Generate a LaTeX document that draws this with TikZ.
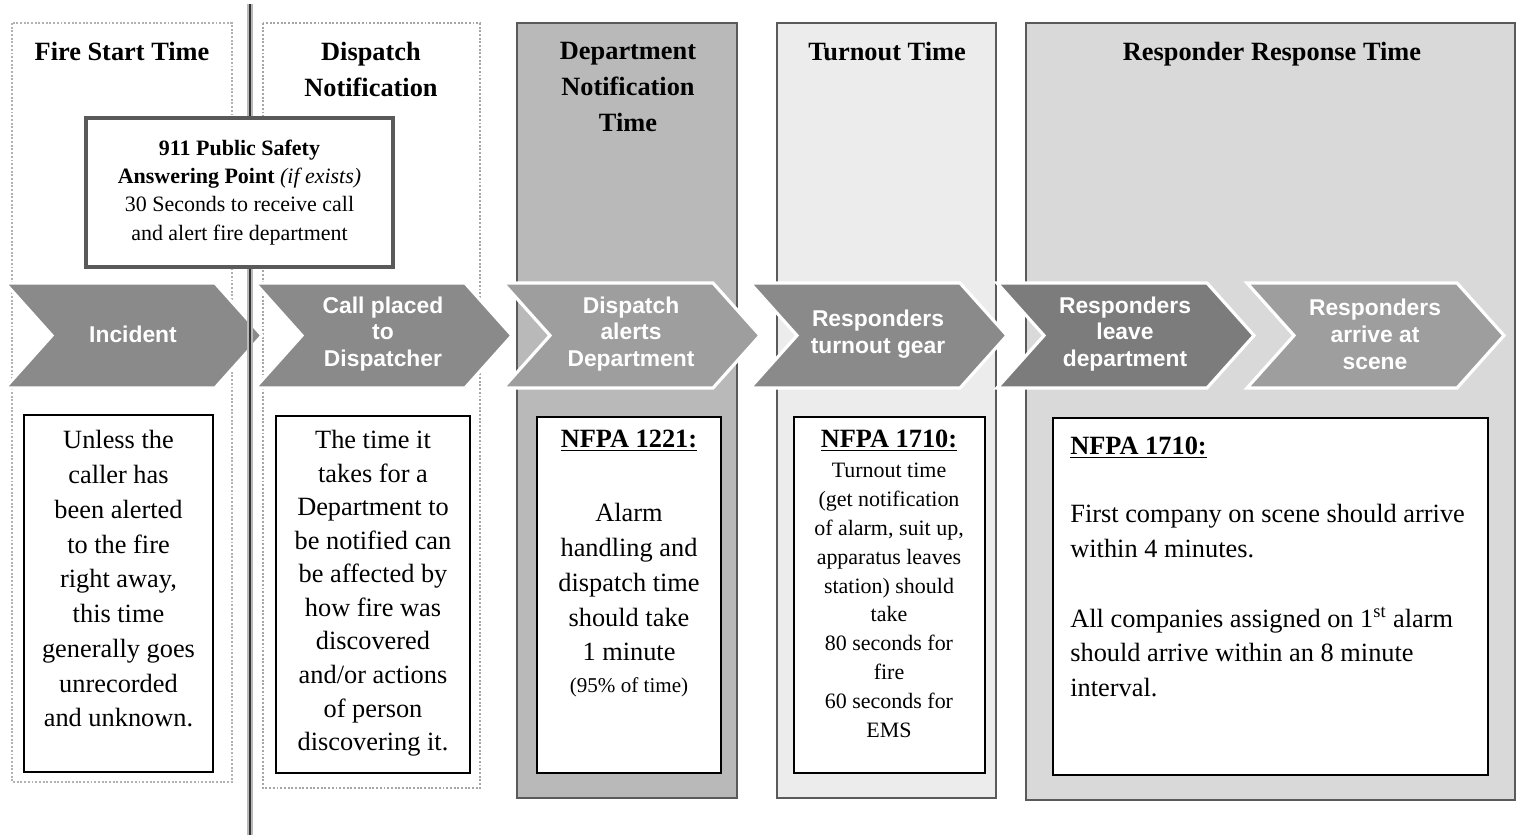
\documentclass[tikz,border=0pt]{standalone}
\usepackage{fontspec}
\setmainfont{Liberation Serif}
\setsansfont{Liberation Sans}
\usetikzlibrary{positioning}
\definecolor{chevmid}{HTML}{8A8A8A}
\definecolor{chevlite}{HTML}{9E9E9E}
\definecolor{chevdark}{HTML}{7C7C7C}
\definecolor{edgegray}{HTML}{5A5A5A}

\begin{document}
\begin{tikzpicture}[x=0.02cm, y=-0.02cm,
  panel/.style={line width=1.1pt, draw=edgegray},
  txtbox/.style={draw=black, fill=white, line width=1.1pt},
  title/.style={font=\bfseries\fontsize{15}{20.5}\selectfont, align=center, anchor=north, inner sep=0pt},
  body/.style={font=\fontsize{15}{19.8}\selectfont, align=center, anchor=north, inner sep=0pt},
  small/.style={font=\fontsize{12.5}{16.4}\selectfont, align=center, anchor=north, inner sep=0pt},
  head/.style={font=\bfseries\fontsize{15}{19.8}\selectfont, anchor=north, inner sep=0pt},
  chev/.style={draw=white, line width=1.8pt, line join=miter},
  chevtext/.style={font=\sffamily\bfseries\fontsize{13}{15.3}\selectfont, text=white, align=center, inner sep=0pt}]
\useasboundingbox[fill=white] (0,0) rectangle (1518,835);

% time columns
\draw[panel, draw=gray!60, densely dotted, fill=white] (12,23) rectangle (232,782);
\draw[panel, draw=gray!70, densely dotted, fill=white] (263,23) rectangle (480,788);
\draw[panel, fill=gray!55] (517,23) rectangle (737,798);
\draw[panel, fill=gray!15] (777,23) rectangle (996,798);
\draw[panel, fill=gray!30] (1026,23) rectangle (1515,800);

% column titles
\node[title] (t1) at (122,42) {Fire Start Time};
\node[title] (t2) at (371,42) {Dispatch\\Notification};
\node[title] (t3) at (628,42) {Department\\Notification\\Time};
\node[title] (t4) at (887,42) {Turnout Time};
\node[title] (t5) at (1272,42) {Responder Response Time};

% process chevrons
\foreach \n/\L/\col/\txt in {1/5/chevmid/Incident,
    2/255/chevmid/{Call placed\\to\\Dispatcher},
    3/503/chevlite/{Dispatch\\alerts\\Department},
    4/750/chevmid/{Responders\\turnout gear},
    5/997/chevdark/{Responders\\leave\\department},
    6/1247/chevlite/{Responders\\arrive at\\scene}} {
  \draw[chev, fill=\col] (\L,283) -- ++(210,0) -- ++(47,52.5) -- ++(-47,52.5)
    -- ++(-210,0) -- ++(47,-52.5) -- cycle;
  \node[chevtext] (c\n) at (\L+128,334) {\txt};
}

% divider between fire start and notification
\draw[gray!55, line width=3.6pt] (250,4) -- (250,835);
\draw[black!80, line width=1.5pt] (250,4) -- (250,835);

% 911 box
\node[draw=edgegray, line width=2.2pt, fill=white, minimum width=6.14cm, minimum height=2.98cm,
  align=center, font=\fontsize{12.5}{16}\selectfont] (psap) at (239.5,192.5)
  {\textbf{911 Public Safety}\\\textbf{Answering Point} \textit{(if exists)}\\30 Seconds to receive call\\and alert fire department};

% standards boxes
\draw[txtbox] (24,415) rectangle (213,772);
\draw[txtbox] (276,416) rectangle (470,773);
\draw[txtbox] (537,417) rectangle (721,773);
\draw[txtbox] (794,417) rectangle (985,773);
\draw[txtbox] (1053,418) rectangle (1488,775);

\node[body] (b1) at (118.5,430) {Unless the\\caller has\\been alerted\\to the fire\\right away,\\this time\\generally goes\\unrecorded\\and unknown.};
\node[body, font=\fontsize{15}{19.1}\selectfont] (b2) at (373,430) {The time it\\takes for a\\Department to\\be notified can\\be affected by\\how fire was\\discovered\\and/or actions\\of person\\discovering it.};

\node[head] (h3) at (629,430) {\underline{NFPA 1221:}};
\node[body] (b3) at (629,503) {Alarm\\handling and\\dispatch time\\should take\\1 minute};
\node[small, font=\fontsize{12}{14}\selectfont] (n3) at (629,677) {(95\% of time)};

\node[head] (h4) at (889,430) {\underline{NFPA 1710:}};
\node[small] (b4) at (889,463) {Turnout time\\(get notification\\of alarm, suit up,\\apparatus leaves\\station) should\\take\\80 seconds for\\fire\\60 seconds for\\EMS};

\node[head, anchor=north west] (h5) at (1070,437) {\underline{NFPA 1710:}};
\node[body, align=left, anchor=north west] (b5) at (1070,504) {First company on scene should arrive\\within 4 minutes.\\[19.8pt]All companies assigned on 1\textsuperscript{st} alarm\\should arrive within an 8 minute\\interval.};
\end{tikzpicture}
\end{document}
